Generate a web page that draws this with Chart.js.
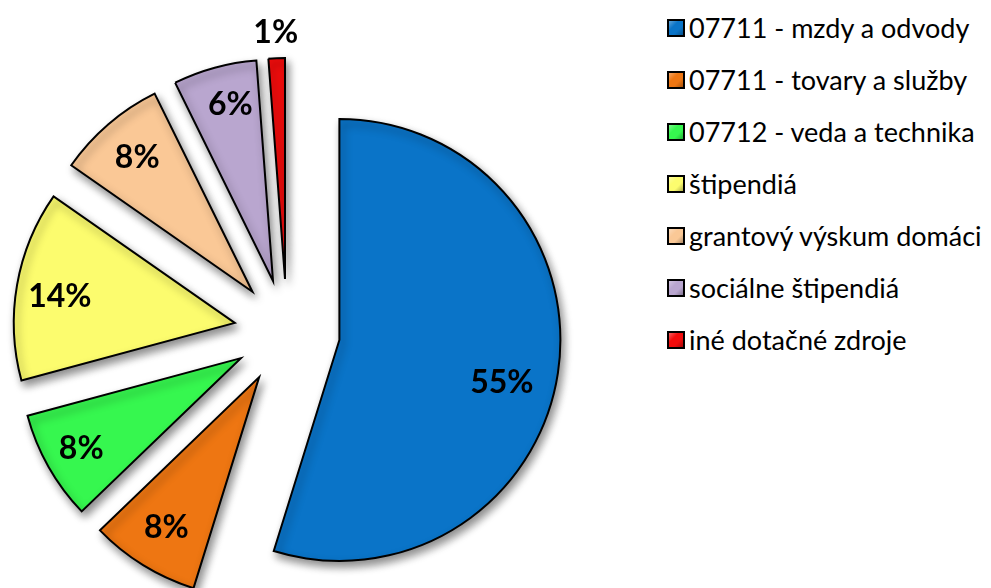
<!DOCTYPE html>
<html>
<head>
<meta charset="utf-8">
<script src="https://cdn.jsdelivr.net/npm/chart.js@4/dist/chart.umd.min.js"></script>
<style>
  html, body { margin: 0; padding: 0; background: #fff; }
  #wrap { position: relative; width: 991px; height: 588px; overflow: hidden; }
  #pie { position: absolute; left: 0; top: 0; }
  #legend { position: absolute; left: 667px; top: 0; font-family: Lato, sans-serif; font-size: 27px; color: #000; }
  .item { position: absolute; left: 0; white-space: nowrap; display: flex; align-items: center; }
  .box { width: 14px; height: 14px; border: 2px solid #000; margin-right: 4px; box-sizing: content-box; }
</style>
</head>
<body>
<div id="wrap">
  <canvas id="pie" width="574" height="588"></canvas>
  <div id="legend"></div>
</div>
<script>
const categories = [
  "07711 - mzdy a odvody",
  "07711 - tovary a služby",
  "07712 - veda a technika",
  "štipendiá",
  "grantový výskum domáci",
  "sociálne štipendiá",
  "iné dotačné zdroje"
];
const shares = [54.8, 8.0, 8.0, 13.9, 8.0, 6.1, 1.2];
const percentLabels = ["55%", "8%", "8%", "14%", "8%", "6%", "1%"];
const colors = ["#0A74C8", "#EE7612", "#36F74F", "#FCFC6E", "#FAC896", "#B9A6CF", "#F20C0C"];

const EXPLODE = 53;
const RADIUS = 221;
// label placement: fraction of radius from slice tip, and angular nudge in degrees
const labelDist = [0.76, 0.80, 0.83, 0.80, 0.80, 0.82, 1.115];
const labelNudge = [6, 0, 0, -1.5, 0, 1.7, 0];

// legend (HTML)
const legendEl = document.getElementById('legend');
categories.forEach((c, i) => {
  const d = document.createElement('div');
  d.className = 'item';
  d.style.top = (11 + i * 52) + 'px';
  const b = document.createElement('span');
  b.className = 'box';
  b.style.background = `linear-gradient(135deg, rgba(255,255,255,0.35) 0%, rgba(255,255,255,0) 35%, rgba(0,0,0,0) 65%, rgba(0,0,0,0.3) 100%), ${colors[i]}`;
  const t = document.createElement('span');
  t.textContent = c;
  d.appendChild(b); d.appendChild(t);
  legendEl.appendChild(d);
});

function midAngle(arc) {
  const p = arc.getProps(['startAngle', 'endAngle'], true);
  return (p.startAngle + p.endAngle) / 2;
}

// Draw exploded slices: each library arc element translated outward along its mid angle
const explodePlugin = {
  id: 'explode',
  beforeDatasetDraw(chart, args) {
    const ctx = chart.ctx;
    const meta = args.meta;
    ctx.save();
    ctx.shadowColor = 'rgba(0,0,0,0.45)';
    ctx.shadowBlur = 9;
    ctx.shadowOffsetX = 3;
    ctx.shadowOffsetY = 5;
    meta.data.forEach(arc => {
      const a = midAngle(arc);
      ctx.save();
      ctx.translate(Math.cos(a) * EXPLODE, Math.sin(a) * EXPLODE);
      arc.draw(ctx);
      ctx.restore();
    });
    ctx.restore();
    return false;
  }
};

const labelPlugin = {
  id: 'pctLabels',
  afterDatasetsDraw(chart) {
    const ctx = chart.ctx;
    const meta = chart.getDatasetMeta(0);
    ctx.save();
    ctx.font = 'bold 32px Lato, sans-serif';
    ctx.fillStyle = '#000';
    ctx.textAlign = 'center';
    ctx.textBaseline = 'middle';
    meta.data.forEach((arc, i) => {
      const p = arc.getProps(['x', 'y', 'outerRadius'], true);
      const a = midAngle(arc);
      const ax = p.x + Math.cos(a) * EXPLODE;
      const ay = p.y + Math.sin(a) * EXPLODE;
      const b = a + labelNudge[i] * Math.PI / 180;
      const lx = ax + Math.cos(b) * p.outerRadius * labelDist[i];
      const ly = ay + Math.sin(b) * p.outerRadius * labelDist[i];
      ctx.fillText(percentLabels[i], lx, ly);
    });
    ctx.restore();
  }
};

new Chart(document.getElementById('pie'), {
  type: 'pie',
  data: {
    labels: categories,
    datasets: [{
      data: shares,
      backgroundColor: colors,
      borderColor: '#000',
      borderWidth: 2,
      borderJoinStyle: 'miter',
      offset: 0,
      clip: false
    }]
  },
  options: {
    responsive: false,
    animation: false,
    radius: RADIUS,
    layout: { padding: { top: 76 } },
    plugins: { legend: { display: false }, tooltip: { enabled: false } }
  },
  plugins: [explodePlugin, labelPlugin]
});
</script>
</body>
</html>
